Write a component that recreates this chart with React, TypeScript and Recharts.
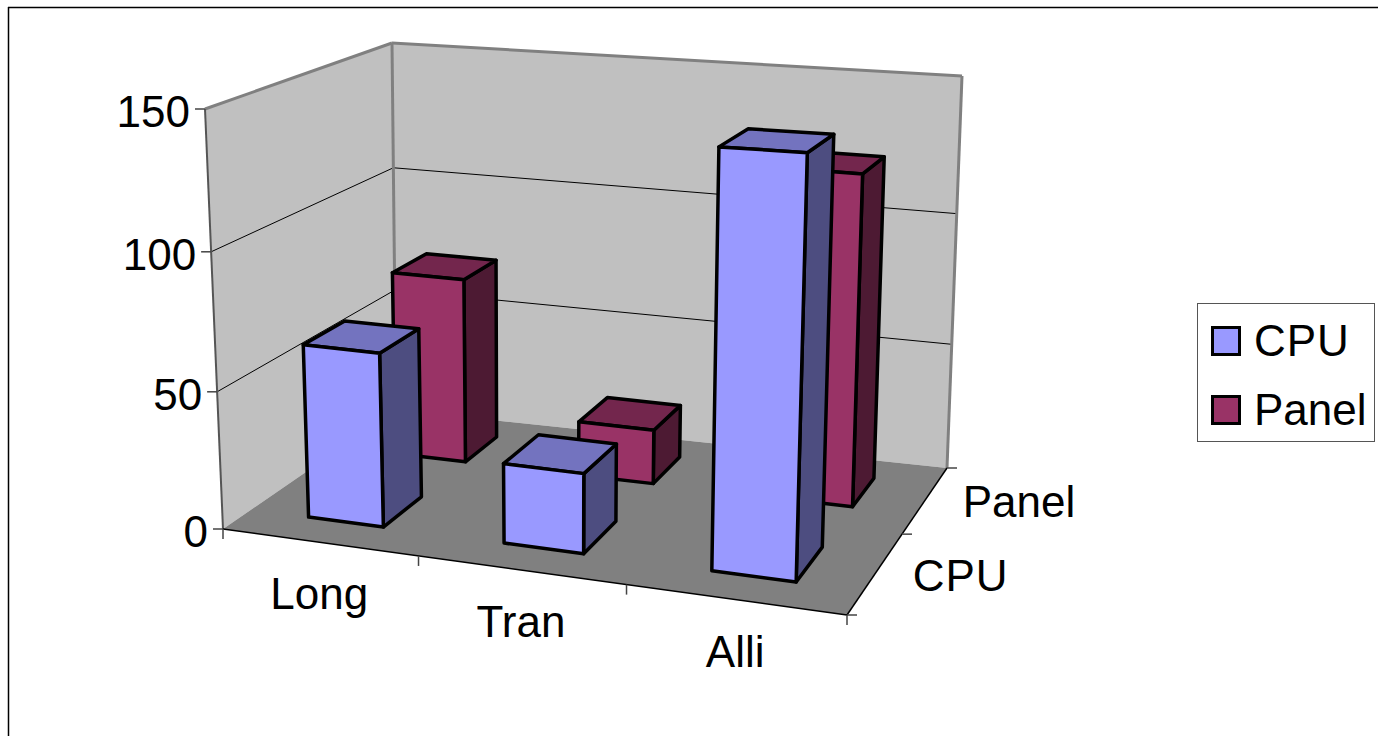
import React from "react";
import { BarChart, Bar, XAxis, YAxis, Legend, Customized } from "recharts";

const categories = ["Long", "Tran", "Alli"];
const cpuValues = [63.5, 29, 144];
const panelValues = [71.5, 21, 123];
const valueTicks = [0, 50, 100, 150];
const depthLabels = ["CPU", "Panel"];
const legendNames = ["CPU", "Panel"];

const rows = categories.map((name, i) => ({ name, CPU: cpuValues[i], Panel: panelValues[i] }));

const W = 1378;
const H = 736;
const FONT = "'Liberation Sans', Arial, sans-serif";
const FS = 44;

type Pt = [number, number];
const A: Pt = [223, 529];
const B: Pt = [847, 615];
const C: Pt = [396, 410];
const D: Pt = [947, 468];
const E: Pt = [205, 109];
const F: Pt = [862, 150];
const G: Pt = [392, 43];
const I: Pt = [962, 76];

const warp = (t: number, k: number) => t + k * t * (1 - t);

function P(u: number, v: number, w: number): Pt {
  const a = warp(u, -0.09);
  const b = warp(v, 0.2);
  const c = warp(w, -0.03 - 0.05 * a);
  const mix = (i: 0 | 1) => {
    const low = A[i] * (1 - a) * (1 - b) + B[i] * a * (1 - b) + C[i] * (1 - a) * b + D[i] * a * b;
    const high = E[i] * (1 - a) * (1 - b) + F[i] * a * (1 - b) + G[i] * (1 - a) * b + I[i] * a * b;
    return low * (1 - c) + high * c;
  };
  return [mix(0), mix(1)];
}

// The axes take one pixel each, so the plot area starts at x=1 and ends at y=H-1.
const toU = (x: number) => (x - 1) / (W - 1);
const toW = (y: number) => (H - 1 - y) / (H - 1);

const pts = (list: Pt[]) => list.map((p) => p.join(",")).join(" ");

const colors: Record<string, { front: string; top: string; side: string }> = {
  CPU: { front: "#9999FF", top: "#7373BF", side: "#4D4D80" },
  Panel: { front: "#993366", top: "#73264D", side: "#4D1A33" },
};

const depthSlots: Record<string, [number, number]> = { CPU: [0.14, 0.36], Panel: [0.64, 0.86] };
const labelSpacing = (name: string) => (name === "CPU" ? 1 : 0);

function Box3D(props: any, key: string) {
  const { x, y, width, height } = props;
  if (!(height > 0)) return <g />;
  const u0 = toU(x);
  const u1 = toU(x + width);
  const w = toW(y);
  const [v0, v1] = depthSlots[key];
  const c = colors[key];
  const common = { stroke: "#000", strokeWidth: 3.5, strokeLinejoin: "round" as const };
  return (
    <g>
      <polygon points={pts([P(u1, v0, 0), P(u1, v1, 0), P(u1, v1, w), P(u1, v0, w)])} fill={c.side} {...common} />
      <polygon points={pts([P(u0, v0, w), P(u1, v0, w), P(u1, v1, w), P(u0, v1, w)])} fill={c.top} {...common} />
      <polygon points={pts([P(u0, v0, 0), P(u1, v0, 0), P(u1, v0, w), P(u0, v0, w)])} fill={c.front} {...common} />
    </g>
  );
}

function Line({ a, b, color = "#000", width = 1 }: { a: Pt; b: Pt; color?: string; width?: number }) {
  return <line x1={a[0]} y1={a[1]} x2={b[0]} y2={b[1]} stroke={color} strokeWidth={width} />;
}

function Room() {
  const gray = "#808080";
  return (
    <g>
      <line x1={8} y1={7.5} x2={W} y2={7.5} stroke="#000" strokeWidth={1.5} />
      <line x1={8.5} y1={7} x2={8.5} y2={H} stroke="#000" strokeWidth={1.5} />
      <polygon points={pts([A, C, G, E])} fill="#C0C0C0" />
      <polygon points={pts([C, D, I, G])} fill="#C0C0C0" />
      <polygon points={pts([A, B, D, C])} fill={gray} />
      {valueTicks
        .filter((t) => t > 0 && t < 150)
        .map((t) => {
          const w = t / 150;
          return (
            <g key={t}>
              <Line a={P(0, 0, w)} b={P(0, 1, w)} />
              <Line a={P(0, 1, w)} b={P(1, 1, w)} />
            </g>
          );
        })}
      <Line a={E} b={G} color={gray} width={3} />
      <Line a={G} b={I} color={gray} width={3} />
      <Line a={I} b={D} color={gray} width={3} />
      <Line a={G} b={C} color={gray} width={3} />
      <Line a={E} b={A} color="#555" width={2} />
      <Line a={A} b={B} width={1.5} />
      <Line a={B} b={D} width={1.5} />
      {[0, 1 / 3, 2 / 3, 1].map((u) => {
        const p = P(u, 0, 0);
        return <Line key={u} a={p} b={[p[0], p[1] + 10]} color="#444" width={1.5} />;
      })}
      {[0, 0.5, 1].map((v) => {
        const p = P(1, v, 0);
        return <Line key={v} a={p} b={[p[0] + 10, p[1]]} color="#444" width={1.5} />;
      })}
      {valueTicks.map((t) => {
        const p = P(0, 0, t / 150);
        return <Line key={t} a={[p[0] - 10, p[1]]} b={p} color="#444" width={1.5} />;
      })}
      {depthLabels.map((name, i) => {
        const p = P(1, (i + 0.5) / depthLabels.length, 0);
        return (
          <text
            key={name}
            x={p[0] + 37}
            y={p[1] + 18}
            fontFamily={FONT}
            fontSize={FS}
            fill="#000"
            letterSpacing={labelSpacing(name)}
          >
            {name}
          </text>
        );
      })}
    </g>
  );
}

function ValueTick({ y, payload }: any) {
  const p = P(0, 0, toW(y));
  return (
    <text x={p[0] - 15} y={p[1] + 18} textAnchor="end" fontFamily={FONT} fontSize={FS} fill="#000">
      {payload.value}
    </text>
  );
}

function CategoryTick({ x, payload }: any) {
  const p = P(toU(x), 0, 0);
  return (
    <text x={p[0]} y={p[1] + 67} textAnchor="middle" fontFamily={FONT} fontSize={FS} fill="#000">
      {payload.value}
    </text>
  );
}

function LegendBox() {
  return (
    <div
      style={{
        position: "relative",
        width: 178,
        height: 139,
        boxSizing: "border-box",
        border: "1.5px solid #555",
        background: "#fff",
        fontFamily: FONT,
        fontSize: FS,
        color: "#000",
      }}
    >
      {legendNames.map((name, i) => (
        <div key={name} style={{ position: "absolute", left: 0, top: 22 + i * 69, height: 30, lineHeight: "30px" }}>
          <div
            style={{
              position: "absolute",
              left: 13,
              top: 0,
              width: 30,
              height: 30,
              boxSizing: "border-box",
              border: "3px solid #000",
              background: colors[name].front,
            }}
          />
          <span
            style={{ position: "absolute", left: 56, top: 0, whiteSpace: "nowrap", letterSpacing: labelSpacing(name) }}
          >
            {name}
          </span>
        </div>
      ))}
    </div>
  );
}

export default function App() {
  return (
    <div style={{ position: "fixed", left: 0, top: 0, width: W, height: H, overflow: "hidden", background: "#fff" }}>
      <BarChart width={W} height={H} data={rows} margin={{ top: 0, right: 0, bottom: 0, left: 0 }} barCategoryGap="30.5%">
        <Customized component={<Room />} />
        <XAxis
          xAxisId="CPU"
          dataKey="name"
          height={1}
          interval={0}
          axisLine={false}
          tickLine={false}
          tick={<CategoryTick />}
        />
        <XAxis xAxisId="Panel" dataKey="name" hide height={0} />
        <YAxis
          width={1}
          domain={[0, 150]}
          ticks={valueTicks}
          interval={0}
          axisLine={false}
          tickLine={false}
          tick={<ValueTick />}
        />
        <Legend
          layout="horizontal"
          verticalAlign="middle"
          content={<LegendBox />}
          wrapperStyle={{ position: "absolute", left: 1197, top: 303, width: 178, height: 139, margin: 0, bottom: "auto" }}
        />
        <Bar
          xAxisId="Panel"
          dataKey="Panel"
          fill={colors.Panel.front}
          isAnimationActive={false}
          shape={(p: any) => Box3D(p, "Panel")}
        />
        <Bar
          xAxisId="CPU"
          dataKey="CPU"
          fill={colors.CPU.front}
          isAnimationActive={false}
          shape={(p: any) => Box3D(p, "CPU")}
        />
      </BarChart>
    </div>
  );
}
